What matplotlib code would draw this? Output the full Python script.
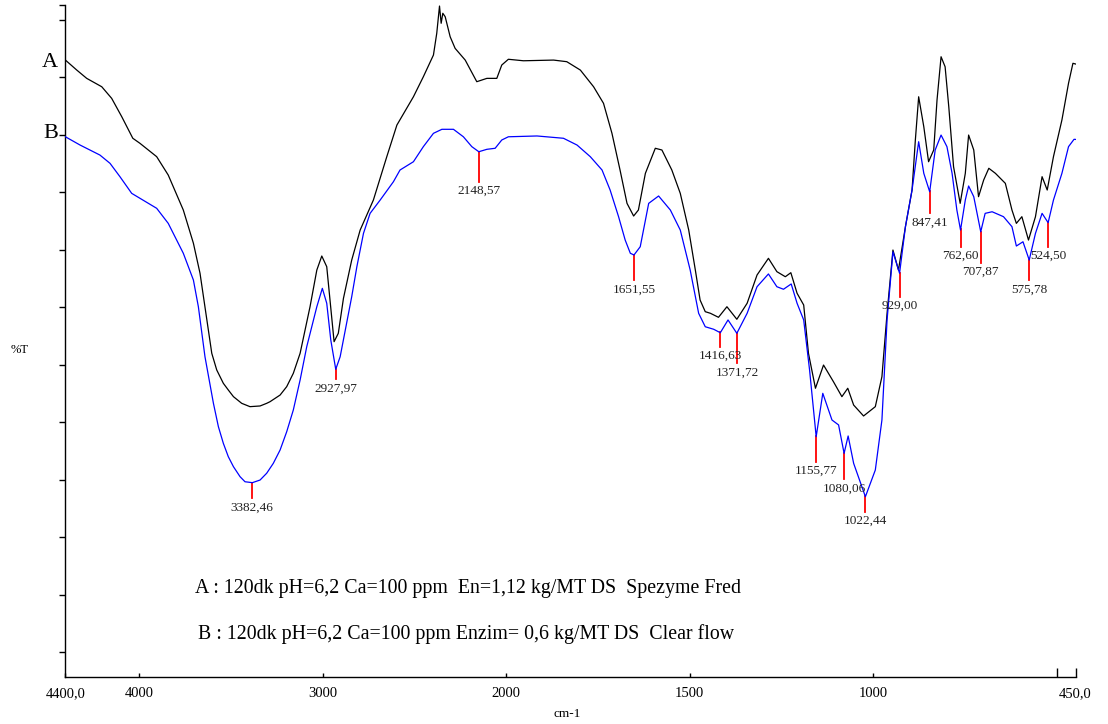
import numpy as np
import matplotlib
matplotlib.use('Agg')
import matplotlib.pyplot as plt

# ---------------- data (wavenumber cm-1, %T arbitrary units) ----------------
wn_a = [4400, 4338, 4284, 4202, 4148, 4093, 4033, 3994, 3903, 3840, 3758, 3703,
        3667, 3640, 3603, 3576, 3540, 3513, 3485, 3440, 3395, 3340, 3304, 3286,
        3231, 3195, 3159, 3122, 3068, 3031, 3004,
        2977, 2959, 2937, 2914, 2886, 2841, 2795, 2723, 2650, 2595, 2505, 2451, 2396,
        2378, 2363, 2354, 2345, 2332, 2305, 2278, 2223, 2160, 2105, 2051, 2024,
        1994, 1953, 1871, 1835, 1798, 1762, 1735, 1712, 1690, 1671, 1653, 1640,
        1621, 1594, 1576, 1549, 1526, 1503, 1485, 1472, 1458, 1444, 1422, 1399,
        1372, 1344, 1317, 1286, 1263, 1240, 1225, 1208, 1190, 1177, 1158, 1136,
        1109, 1086, 1070, 1054, 1027, 995, 977, 963, 947, 932, 913, 895,
        886, 877, 863, 850, 836, 827, 816, 805, 795, 782, 764, 750,
        741, 727, 714, 700, 686, 668, 641, 623, 611, 596, 578, 559,
        541, 527, 510, 487, 469, 457, 450]
pt_a = [61.50, 60.63, 59.91, 59.18, 58.17, 56.57, 54.70, 54.26, 53.10, 51.50, 48.46, 45.57,
        42.96, 40.05, 36.00, 34.55, 33.39, 32.81, 32.23, 31.65, 31.36, 31.42, 31.65, 31.79,
        32.37, 33.10, 34.26, 36.00, 40.05, 43.24, 44.46,
        43.53, 40.63, 37.01, 37.74, 40.78, 44.11, 46.72, 49.33, 53.10, 55.85, 58.31, 60.05, 61.94,
        63.83, 66.20, 64.70, 65.57, 65.27, 63.53, 62.52, 61.50, 59.62, 59.91, 59.91, 61.07,
        61.57, 61.44, 61.50, 61.36, 60.63, 59.18, 57.74, 55.13, 51.94, 49.04, 47.94, 48.46,
        51.65, 53.83, 53.68, 51.94, 49.91, 46.72, 43.24, 40.63, 39.62, 39.48, 39.13, 40.05,
        38.96, 40.35, 42.81, 44.26, 43.10, 42.66, 43.01, 41.22, 40.20, 36.00, 32.96, 34.98,
        33.53, 32.23, 32.96, 31.50, 30.55, 31.36, 33.97, 39.48, 44.98, 43.24, 47.01, 50.20,
        54.55, 58.31, 55.70, 52.66, 53.68, 58.03, 61.79, 60.92, 57.44, 52.23, 49.04, 51.65,
        54.98, 53.68, 49.62, 51.07, 52.09, 51.65, 50.78, 48.46, 47.30, 47.88, 45.85, 47.88,
        51.36, 50.20, 53.10, 56.29, 59.48, 61.22, 61.16]

wn_b = [4400, 4320, 4212, 4157, 4103, 4039, 3994, 3903, 3840, 3758, 3703, 3676,
        3640, 3594, 3567, 3540, 3513, 3485, 3449, 3422, 3382, 3340, 3304, 3268,
        3231, 3195, 3159, 3122, 3086, 3031, 3001,
        2977, 2955, 2928, 2904, 2841, 2813, 2777, 2741, 2686, 2614, 2578, 2505, 2451, 2396,
        2350, 2287, 2233, 2187, 2149, 2105, 2060, 2024, 1994, 1916, 1844, 1807,
        1771, 1739, 1717, 1694, 1676, 1662, 1652, 1635, 1612, 1585, 1553, 1526,
        1499, 1476, 1458, 1435, 1417, 1396, 1372, 1344, 1317, 1286, 1263, 1245,
        1224, 1208, 1190, 1174, 1156, 1138, 1113, 1095, 1080, 1069, 1054, 1022,
        995, 977, 963, 947, 929, 913, 895, 877, 863, 847, 832, 816,
        800, 786, 773, 763, 750, 741, 727, 708, 696, 677, 646, 623,
        611, 593, 576, 559, 541, 524.5, 510, 487, 469, 454, 450]
pt_b = [54.83, 54.11, 53.24, 52.52, 51.36, 49.91, 49.48, 48.61, 47.30, 44.70, 42.37, 40.05,
        35.70, 31.65, 29.62, 28.17, 27.01, 26.14, 25.27, 24.83, 24.75, 24.98, 25.57, 26.43,
        27.59, 29.18, 31.07, 33.68, 36.57, 40.05, 41.65,
        40.35, 37.16, 34.61, 35.70, 40.92, 43.53, 46.43, 48.17, 49.33, 50.92, 51.94, 52.66, 53.97, 55.13,
        55.48, 55.48, 54.83, 53.97, 53.53, 53.74, 53.83, 54.55, 54.83, 54.90, 54.70, 54.11,
        53.10, 51.94, 50.20, 47.88, 45.85, 44.70, 44.55, 45.27, 49.04, 49.68, 48.46, 46.72,
        43.24, 39.48, 38.31, 38.09, 37.79, 38.90, 37.74, 39.48, 41.79, 42.90, 41.79, 41.57,
        42.03, 40.35, 38.90, 34.55, 28.75, 32.52, 30.20, 29.77, 27.30, 28.81, 26.43, 23.53,
        25.85, 30.20, 38.90, 44.83, 42.96, 47.01, 50.20, 54.40, 51.65, 50.05, 53.68, 54.98,
        53.97, 51.65, 48.46, 46.72, 49.33, 50.55, 49.62, 46.57, 48.17, 48.31, 47.88, 47.01,
        45.33, 45.70, 44.11, 46.43, 48.17, 47.36, 49.33, 51.65, 53.97, 54.61, 54.60]

peak_wn = [3382.46, 2927.97, 2148.57, 1651.55, 1416.63, 1371.72, 1155.77, 1080.06,
           1022.44, 929.00, 847.41, 762.60, 707.87, 575.78, 524.50]
peak_labels = ['3382,46', '2927,97', '2148,57', '1651,55', '1416,63', '1371,72',
               '1155,77', '1080,06', '1022,44', '929,00', '847,41', '762,60',
               '707,87', '575,78', '524,50']
peak_line_end = [23.39, 33.74, 50.92, 42.37, 36.57, 35.13, 26.57, 25.07,
                 22.23, 40.92, 48.17, 45.27, 43.88, 42.37, 45.27]

xtick_vals = [4400, 4000, 3000, 2000, 1500, 1000]
xtick_labels = ['4400,0', '4000', '3000', '2000', '1500', '1000']
xend_vals = [500, 450]
xend_labels = ['', '450,0']
ytick_vals = [10, 15, 20, 25, 30, 35, 40, 45, 50, 55, 60, 65, 66.29]

legend_a = 'A : 120dk pH=6,2 Ca=100 ppm  En=1,12 kg/MT DS  Spezyme Fred'
legend_b = 'B : 120dk pH=6,2 Ca=100 ppm Enzim= 0,6 kg/MT DS  Clear flow'

# ---------------- figure ----------------
W, H = 1108, 724
FONT = 'Liberation Serif'
plt.rcParams['font.family'] = [FONT, 'DejaVu Serif']

fig = plt.figure(figsize=(W / 100, H / 100), dpi=100)
ax = fig.add_axes([65.4 / W, 1 - 677 / H, (1075.5 - 65.4) / W, (677 - 5) / H])


def fwd(t):
    t = np.asarray(t, dtype=float)
    return np.where(t >= 2000, t, 2 * t - 2000)


def inv(u):
    u = np.asarray(u, dtype=float)
    return np.where(u >= 2000, u, (u + 2000) / 2)


ax.set_xscale('function', functions=(fwd, inv))
ax.plot(wn_a, pt_a, color='black', lw=0.9, zorder=3)
ax.plot(wn_b, pt_b, color='#0000ff', lw=0.9, zorder=3)
ax.set_xlim(4400, 450)
ax.set_ylim(7.85, 66.29)

# peak annotations on curve B
wb = np.array(wn_b)[::-1]
pb = np.array(pt_b)[::-1]
for w, lab, yend in zip(peak_wn, peak_labels, peak_line_end):
    ystart = np.interp(w, wb, pb)
    ax.plot([w, w], [ystart, yend], color='#ff0000', lw=1.3, zorder=2)
    ax.annotate(lab, xy=(w, yend), xytext=(0, -6.8), textcoords='offset points',
                ha='center', va='center', fontsize=9.5, color='#222222')

for s in ['top', 'right']:
    ax.spines[s].set_visible(False)
for s in ['left', 'bottom']:
    ax.spines[s].set_linewidth(1.0)

ax.set_xticks(xtick_vals, xtick_labels)
ax.set_xticks(xend_vals, xend_labels, minor=True)
ax.tick_params(axis='x', which='major', direction='in', length=3, width=1,
               labelsize=10.5, pad=7)
ax.tick_params(axis='x', which='minor', direction='in', length=6.5, width=1,
               labelsize=10.5, pad=7)
ax.set_yticks(ytick_vals, [''] * len(ytick_vals))
ax.tick_params(axis='y', which='major', direction='out', length=4.5, width=1)
ax.yaxis.set_minor_locator(matplotlib.ticker.NullLocator())

# texts
fig.text(50 / W, 1 - 62.5 / H, 'A', fontsize=16, ha='center', va='center')
fig.text(50.5 / W, 1 - 133.7 / H, 'B', fontsize=16, ha='center', va='center')
fig.text(20 / W, 1 - 350 / H, '%T', fontsize=9, ha='center', va='center')
fig.text(567 / W, 1 - 714 / H, 'cm-1', fontsize=9.5, ha='center', va='center')
fig.text(195 / W, 1 - 589 / H, legend_a, fontsize=14.3, ha='left', va='center')
fig.text(198 / W, 1 - 634 / H, legend_b, fontsize=14.3, ha='left', va='center')

fig.savefig('out.png', dpi=100)
